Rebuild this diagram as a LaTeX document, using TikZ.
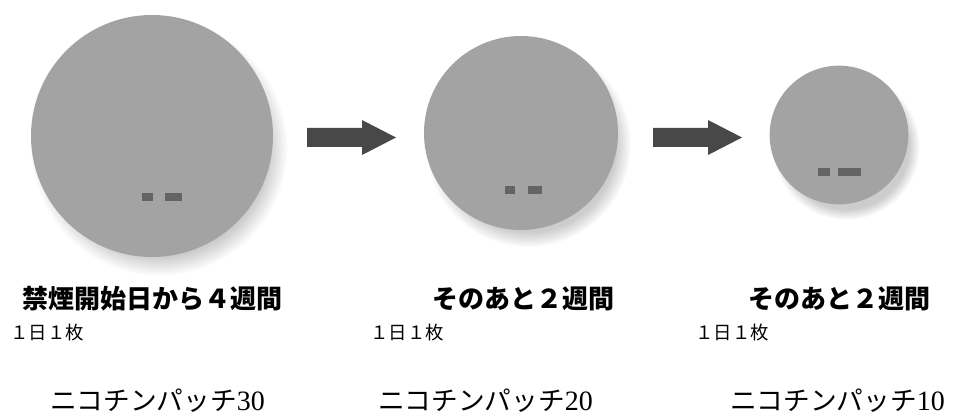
\documentclass[tikz,border=0pt]{standalone}
\usepackage{fontspec}
\newfontfamily\jpfont{Noto Sans CJK JP}
\newfontfamily\numfont{Liberation Serif}
\usetikzlibrary{shadows}

\definecolor{patchgray}{RGB}{163,163,163}
\definecolor{shadowgray}{RGB}{205,205,205}
\definecolor{arrowgray}{RGB}{72,72,72}
\definecolor{stampgray}{RGB}{100,100,100}

\begin{document}
\begin{tikzpicture}[x=0.75pt, y=-0.75pt,
        patch/.style = {circle, fill=patchgray, inner sep=0pt,
            circular drop shadow={shadow xshift=5pt, shadow yshift=-8pt, shadow scale=1.06, fill=shadowgray, opacity=1}},
        stamp/.style = {fill=stampgray},
        arrow fill/.style = {fill=arrowgray},
        title text/.style = {anchor=base west, inner sep=0pt, font=\jpfont\bfseries\fontsize{19.5}{22}\selectfont},
        dose text/.style = {anchor=base west, inner sep=0pt, font=\jpfont\fontsize{13.8}{16}\selectfont},
        name text/.style = {anchor=base west, inner sep=0pt, font=\jpfont\fontsize{20}{24}\selectfont},
        ]
        \useasboundingbox (0,0) rectangle (957,417);

        % Patches, largest to smallest
        \node[patch, minimum size=181.5pt] (C1) at (152,136) {};
        \node[patch, minimum size=145.5pt] (C2) at (521,133) {};
        \node[patch, minimum size=104pt] (C3) at (839,135) {};

        % Small print on each patch
        \fill[stamp] (142,193) rectangle (153,201);
        \fill[stamp] (165,193) rectangle (182,201);
        \fill[stamp] (505,186) rectangle (515,194);
        \fill[stamp] (528,186) rectangle (542,194);
        \fill[stamp] (818,168) rectangle (830,176);
        \fill[stamp] (838,168) rectangle (861,176);

        % Arrows between the steps
        \foreach \ax in {307,653}
            \fill[arrow fill] (\ax,128) -- ++(55,0) -- ++(0,-8) -- ++(34,17.5) -- ++(-34,17.5) -- ++(0,-8) -- ++(-55,0) -- cycle;

        % Periods
        \node[title text] (T1) at (22,308) {禁煙開始日から４週間};
        \node[title text] (T2) at (432,308) {そのあと２週間};
        \node[title text] (T3) at (748,308) {そのあと２週間};

        % Daily dose
        \node[dose text] (D1) at (10,339) {１日１枚};
        \node[dose text] (D2) at (370,339) {１日１枚};
        \node[dose text] (D3) at (695,339) {１日１枚};

        % Patch names
        \node[name text] (N1) at (50,410) {ニコチンパッチ{\numfont\fontsize{21}{24}\selectfont 30}};
        \node[name text] (N2) at (378,410) {ニコチンパッチ{\numfont\fontsize{21}{24}\selectfont 20}};
        \node[name text] (N3) at (730,410) {ニコチンパッチ{\numfont\fontsize{21}{24}\selectfont 10}};
    \end{tikzpicture}
\end{document}
